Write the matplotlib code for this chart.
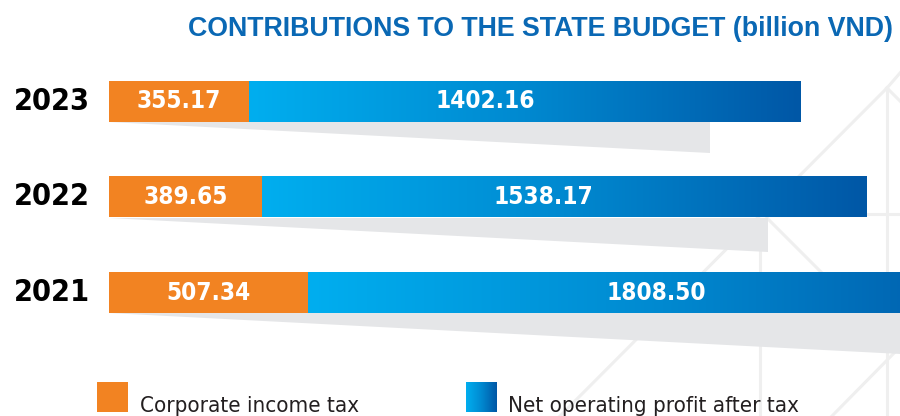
import numpy as np
import matplotlib
matplotlib.use("Agg")
import matplotlib.pyplot as plt
from matplotlib import font_manager as fm
from matplotlib.patches import Polygon, Rectangle
from matplotlib.colors import LinearSegmentedColormap
from matplotlib.lines import Line2D

# ---- data ----
years = ["2023", "2022", "2021"]
corporate_tax = [355.17, 389.65, 507.34]
net_profit = [1402.16, 1538.17, 1808.50]
title = "CONTRIBUTIONS TO THE STATE BUDGET (billion VND)"
legend_labels = ["Corporate income tax", "Net operating profit after tax"]

# ---- style ----
ORANGE = "#f28322"
TITLE_BLUE = "#0a68b4"
SHADOW = "#e5e6e8"
BG_LINE = "#efefef"
blue_cmap = LinearSegmentedColormap.from_list("bl", ["#00aeef", "#0089d0", "#0057a6"])

# find a condensed font file if any
cond_regular = None
cond_bold = None
for f in fm.fontManager.ttflist:
    nm = (f.name + " " + f.fname).lower()
    if ("condensed" in nm or "narrow" in nm) and "oblique" not in nm and "italic" not in nm:
        w = f.weight if isinstance(f.weight, int) else (700 if "bold" in str(f.weight) else 400)
        if w >= 700 and cond_bold is None:
            cond_bold = f.fname
        elif w < 600 and cond_regular is None:
            cond_regular = f.fname

def fp_bold(size):
    if cond_bold:
        return fm.FontProperties(fname=cond_bold, size=size)
    return fm.FontProperties(family="DejaVu Sans", weight="bold", stretch="condensed", size=size)

def fp_reg(size):
    if cond_regular:
        return fm.FontProperties(fname=cond_regular, size=size)
    return fm.FontProperties(family="DejaVu Sans", stretch="condensed", size=size)

W, H = 900, 416
fig = plt.figure(figsize=(W / 100, H / 100), dpi=100)
fig.patch.set_facecolor("white")

# decorative background lines (figure pixel coords)
bg = fig.add_axes([0, 0, 1, 1], zorder=0)
bg.set_xlim(0, W); bg.set_ylim(H, 0); bg.axis("off")
for (x0, y0, x1, y1) in [
    (887, 88, 887, 416), (887, 88, 560, 416), (887, 88, 900, 101),
    (900, 73, 887, 88), (760, 252, 760, 416), (767, 218, 900, 351),
    (862, 214, 900, 214), (900, 347, 832, 416),
]:
    bg.add_line(Line2D([x0, x1], [y0, y1], color=BG_LINE, lw=2.2))

# main axes
ax_left_px, ax_top_px, ax_bot_px = 109, 60, 370
ax = fig.add_axes([ax_left_px / W, 1 - ax_bot_px / H,
                   (W - ax_left_px) / W, (ax_bot_px - ax_top_px) / H], zorder=1)
ax.patch.set_alpha(0)
px_per_unit = 0.393
xmax = (W - ax_left_px) / px_per_unit
row_px = 95.5
yc_px = 292.5  # pixel center of bottom row
ylim = ((yc_px - ax_bot_px) / row_px, (yc_px - ax_top_px) / row_px)
ax.axis("off")

n = len(years)
ypos = np.arange(n)[::-1]  # 2023 at top
bar_h = 41 / row_px
blue_label_frac = [0.43, 0.465, 0.49]

for i, (yr, ct, npv) in enumerate(zip(years, corporate_tax, net_profit)):
    y = ypos[i]
    total = ct + npv
    bottom = y - bar_h / 2
    top = y + bar_h / 2
    sh_len = 0.87 * total
    drop = 0.052 * sh_len * px_per_unit / row_px
    ax.add_patch(Polygon([(0, bottom), (sh_len, bottom), (sh_len, bottom - drop)],
                         closed=True, facecolor=SHADOW, edgecolor="none", zorder=1))
    ax.barh(y, ct, height=bar_h, left=0, color=ORANGE, zorder=2)
    grad = np.linspace(0, 1, 256).reshape(1, -1)
    ax.imshow(grad, cmap=blue_cmap, aspect="auto", interpolation="bicubic",
              extent=[ct, total, bottom, top], zorder=2)
    ax.text(ct / 2, y, f"{ct:.2f}", color="white", ha="center", va="center",
            fontproperties=fp_bold(17.5), zorder=3)
    ax.text(ct + npv * blue_label_frac[i], y, f"{npv:.2f}", color="white",
            ha="center", va="center", fontproperties=fp_bold(17.5), zorder=3)
    ax.text(-19 / px_per_unit, y, yr, ha="right", va="center",
            fontproperties=fp_bold(22), color="black", clip_on=False)

ax.set_xlim(0, xmax)
ax.set_ylim(*ylim)

# title
fig.text(541 / W, 1 - 29 / H, title, ha="center", va="center", fontsize=19.3,
         fontweight="bold", color=TITLE_BLUE, family=["Liberation Sans", "DejaVu Sans"])

# legend
lx = fig.add_axes([97 / W, 1 - 412 / H, 31 / W, 30 / H])
lx.add_patch(Rectangle((0, 0), 1, 1, color=ORANGE)); lx.axis("off")
lx.set_xlim(0, 1); lx.set_ylim(0, 1)
bx = fig.add_axes([466 / W, 1 - 412 / H, 31 / W, 30 / H])
bx.imshow(np.linspace(0, 1, 64).reshape(1, -1), cmap=blue_cmap, aspect="auto",
          extent=[0, 1, 0, 1]); bx.axis("off")
fig.text(140 / W, 1 - 412 / H, legend_labels[0], ha="left", va="baseline",
         fontproperties=fp_reg(16), color="#231f20")
fig.text(508 / W, 1 - 412 / H, legend_labels[1], ha="left", va="baseline",
         fontproperties=fp_reg(16), color="#231f20")

fig.savefig("out.png", dpi=100, facecolor="white")
